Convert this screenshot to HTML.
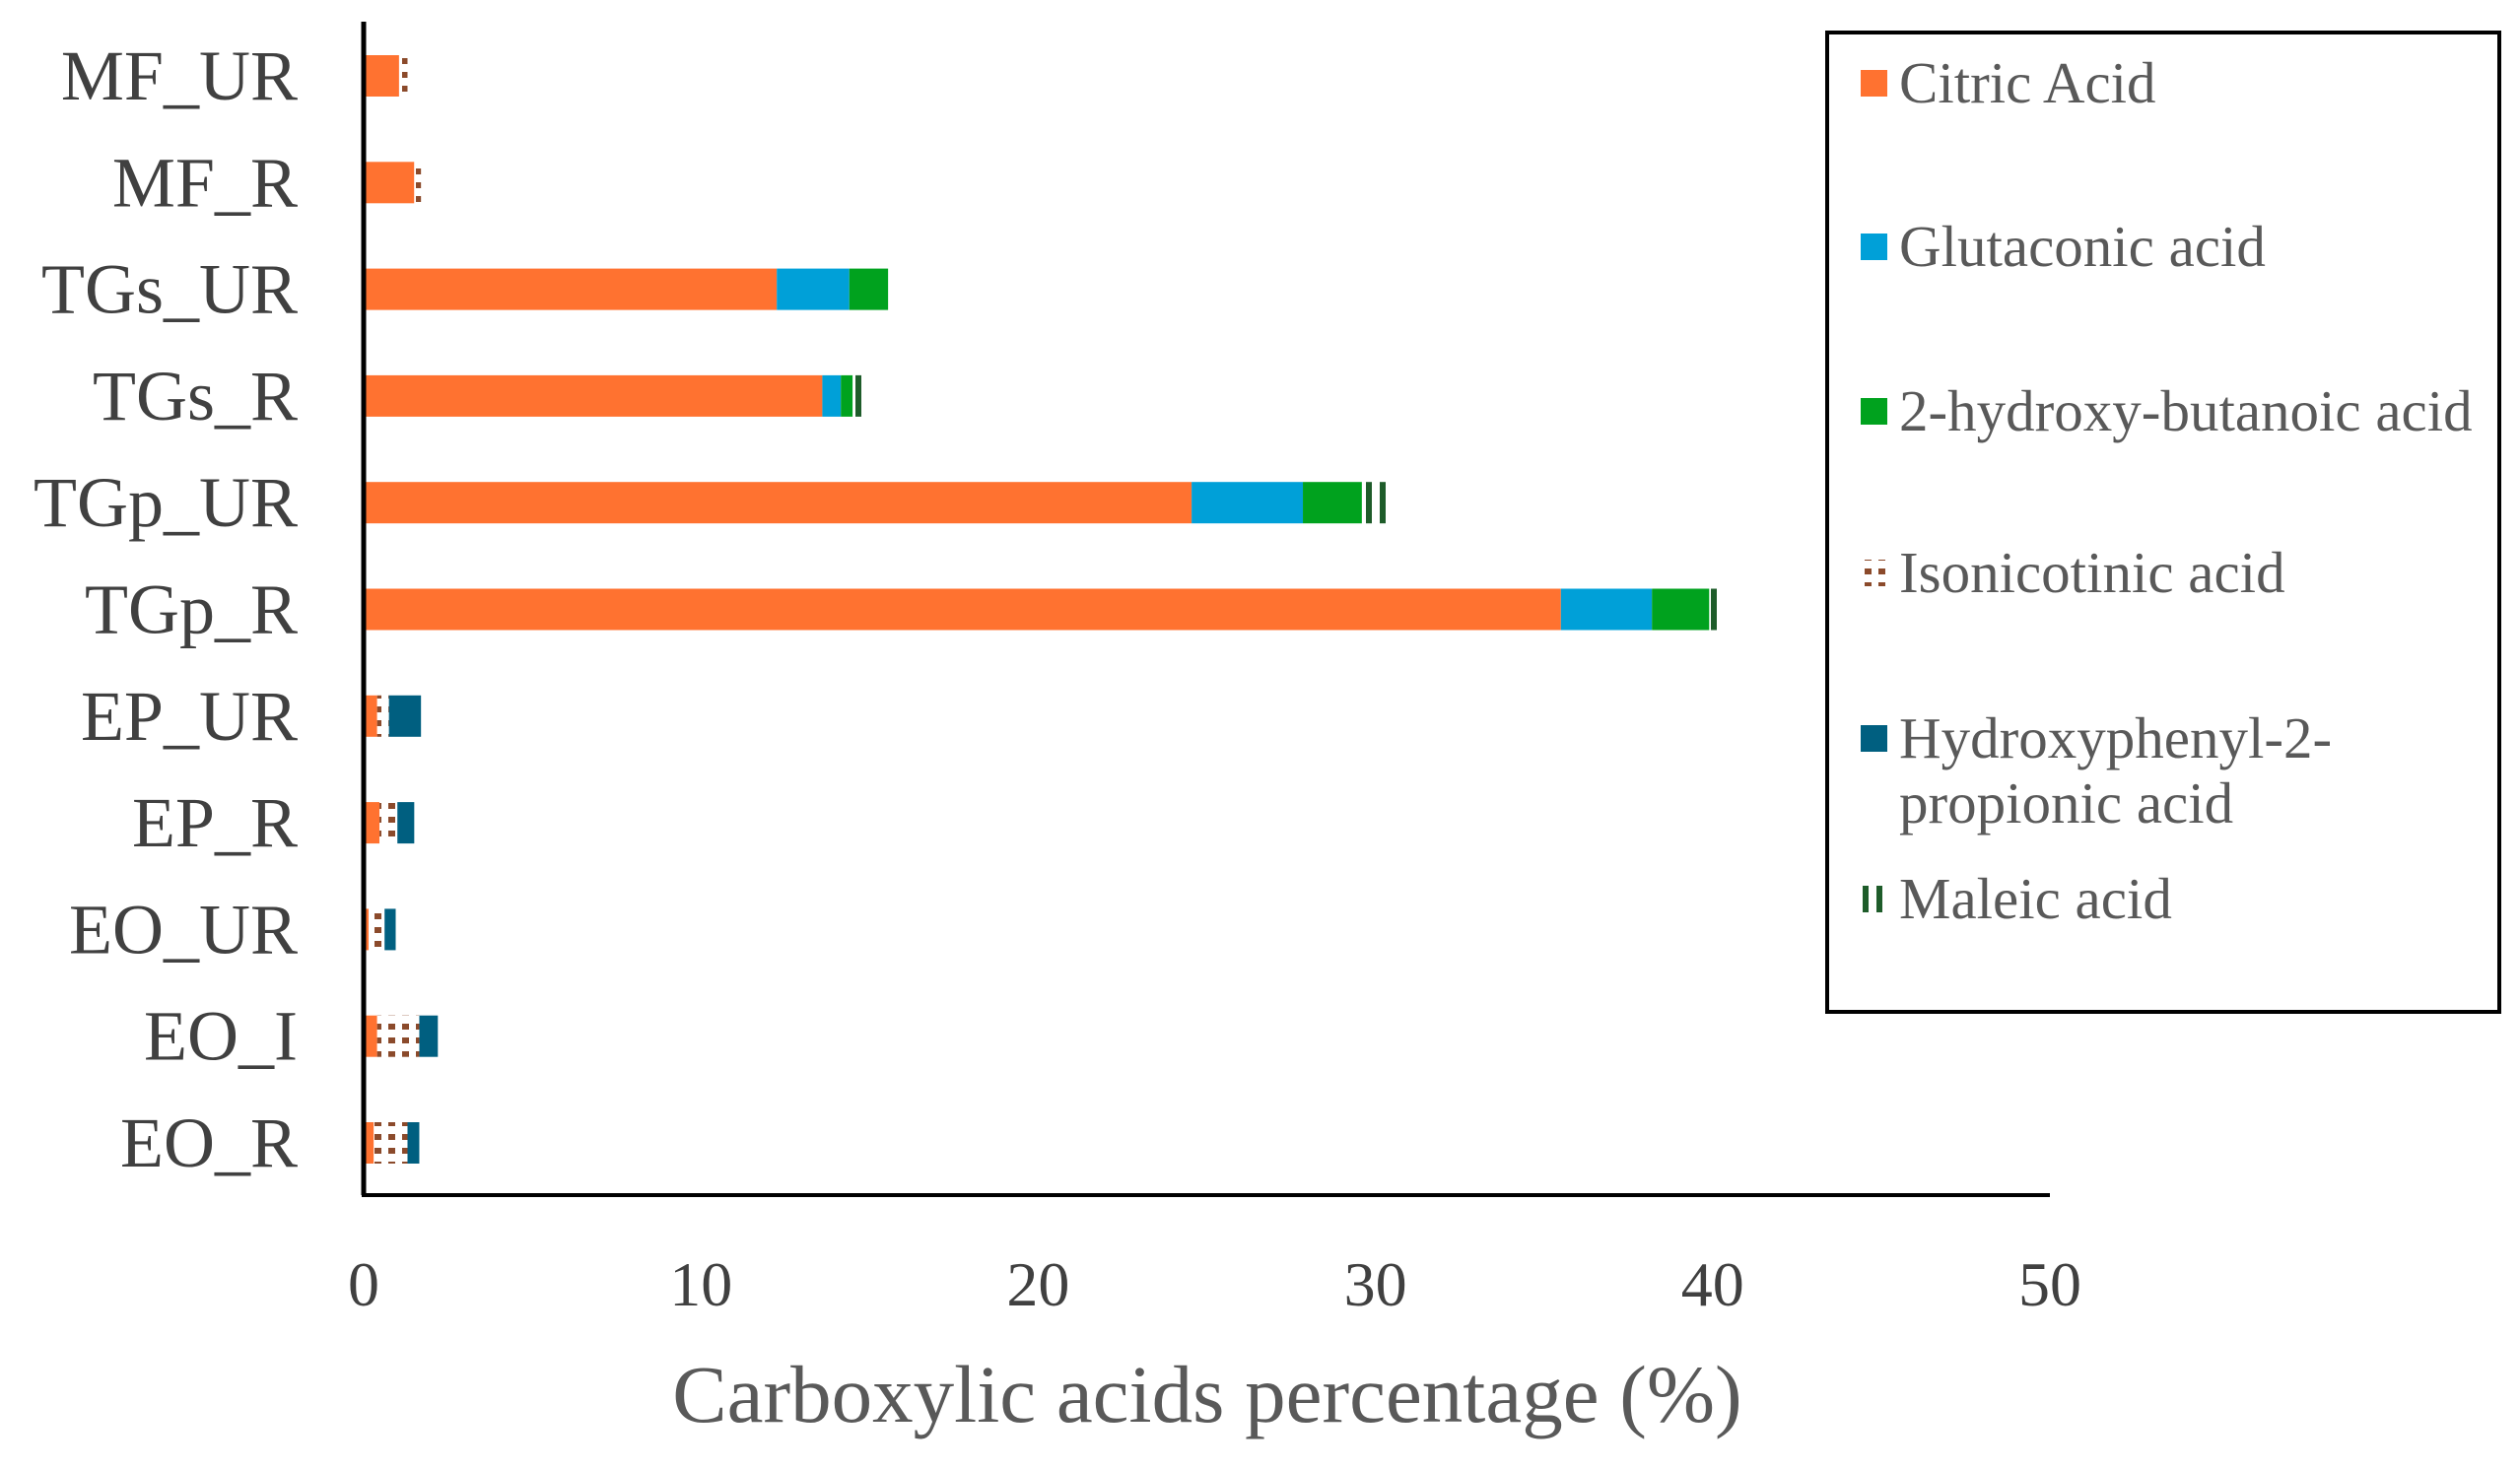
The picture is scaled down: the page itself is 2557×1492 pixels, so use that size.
<!DOCTYPE html>
<html><head><meta charset="utf-8"><style>
html,body{margin:0;padding:0;background:#fff;}
svg{display:block;font-family:"Liberation Serif",serif;}
</style></head><body>
<svg id="chart" width="2557" height="1492" viewBox="0 0 2557 1492" xmlns="http://www.w3.org/2000/svg">
<defs>
<pattern id="pat-iso" patternUnits="userSpaceOnUse" width="14" height="14">
<rect width="14" height="14" fill="#fff"/>
<rect x="2" y="3" width="7" height="6" fill="#8B4A2B"/>
</pattern>
<pattern id="pat-mal" patternUnits="userSpaceOnUse" width="14" height="12">
<rect width="14" height="12" fill="#fff"/>
<rect x="0" y="0" width="6" height="12" fill="#1E5C2A"/>
</pattern>
</defs>
<g id="plot"></g>
<rect x="1854" y="33" width="682" height="994" fill="#fff" stroke="#000" stroke-width="4"/>
<g id="legend"></g>
</svg>
<script>
const categories = ["MF_UR","MF_R","TGs_UR","TGs_R","TGp_UR","TGp_R","EP_UR","EP_R","EO_UR","EO_I","EO_R"];
const citric = [1.05,1.5,12.25,13.6,24.55,35.5,0.4,0.47,0.15,0.4,0.3];
const glutaconic = [0,0,2.15,0.55,3.3,2.7,0,0,0,0,0];
const hydroxyButanoic = [0,0,1.15,0.35,1.75,1.7,0,0,0,0,0];
const isonicotinic = [0.25,0.2,0,0,0,0,0.35,0.53,0.47,1.25,1.0];
const hydroxyphenyl = [0,0,0,0,0,0,0.95,0.5,0.33,0.55,0.35];
const maleic = [0,0,0,0.35,0.9,0.45,0,0,0,0,0];
const xTicks = [0,10,20,30,40,50];
const seriesNames = ["Citric Acid","Glutaconic acid","2-hydroxy-butanoic acid","Isonicotinic acid","Hydroxyphenyl-2-propionic acid","Maleic acid"];

const NS="http://www.w3.org/2000/svg";
const X0=369, X1=2080, XMAX=50;
const xs=v=>X0+(v/XMAX)*(X1-X0);
const Y0=77, STEP=108.3, BH=42;
const ys=i=>Y0+i*STEP;
const plot=document.getElementById('plot');
function mk(t,a,p){const e=document.createElementNS(NS,t);for(const k in a)e.setAttribute(k,a[k]);(p||plot).appendChild(e);return e;}

const series=[
 {vals:citric,fill:"#FF7230",key:"citric"},
 {vals:glutaconic,fill:"#00A0D8",key:"glutaconic"},
 {vals:hydroxyButanoic,fill:"#00A21E",key:"hydroxy-butanoic"},
 {vals:isonicotinic,fill:"url(#pat-iso)",key:"isonicotinic"},
 {vals:hydroxyphenyl,fill:"#005F80",key:"hydroxyphenyl"},
 {vals:maleic,fill:"url(#pat-mal)",key:"maleic"}
];
const order=[0,3,1,2,4,5];
categories.forEach((c,i)=>{
 let acc=0;
 order.forEach(si=>{
  const s=series[si];const v=s.vals[i];
  if(v>0){
   const r=mk('rect',{x:xs(acc),y:ys(i)-BH/2,width:xs(acc+v)-xs(acc),height:BH,fill:s.fill});
   
   
  }
  acc+=v;
 });
 const t=mk('text',{x:302,y:ys(i)+24,'text-anchor':'end','font-size':72,fill:'#404040'});
 t.textContent=c;
 
 
});
const ya=mk('line',{x1:X0,y1:22,x2:X0,y2:1213,stroke:'#000','stroke-width':5});


const xa=mk('line',{x1:X0-2,y1:1213,x2:X1,y2:1213,stroke:'#000','stroke-width':4});


xTicks.forEach(v=>{
 const t=mk('text',{x:xs(v),y:1325,'text-anchor':'middle','font-size':64,fill:'#404040'});
 t.textContent=v;
 
 
});
const xt=mk('text',{x:1225,y:1443,'text-anchor':'middle','font-size':83,fill:'#595959'});
xt.textContent="Carboxylic acids percentage (%)";



const lg=document.getElementById('legend');
const legY=[85,251,418,582,750,913];
seriesNames.forEach((n,i)=>{
 const g=mk('g',{},lg);
 
 
 mk('rect',{x:1888,y:legY[i]-14,width:27,height:27,fill:series[i].fill},g);
 const t=mk('text',{x:1927,y:legY[i]+19,'font-size':59,fill:'#595959'},g);
 if(i===4){
  t.textContent="Hydroxyphenyl-2-";
  const t2=mk('text',{x:1927,y:legY[i]+85,'font-size':59,fill:'#595959'},g);
  t2.textContent="propionic acid";
 } else t.textContent=n;
});
</script>
</body></html>
